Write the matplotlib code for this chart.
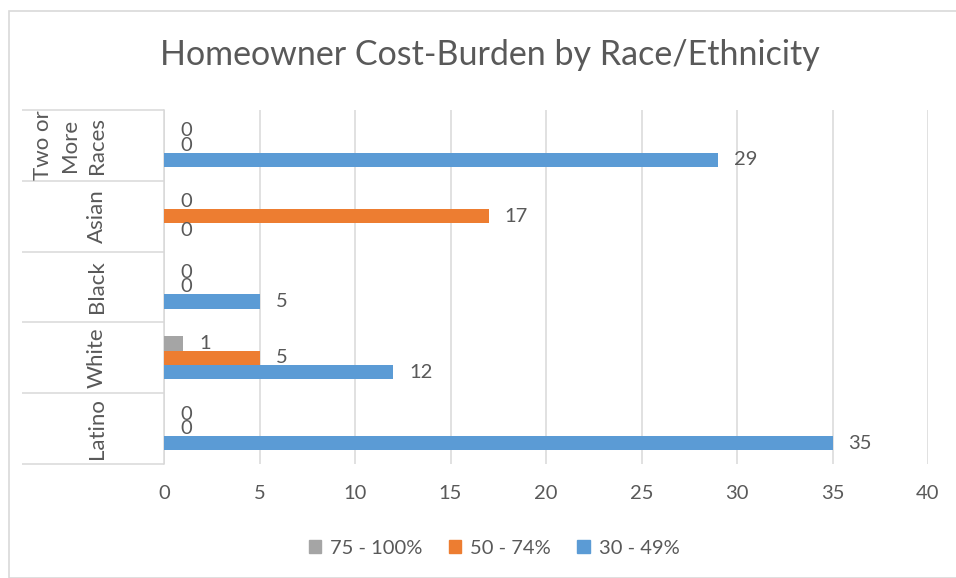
import matplotlib.pyplot as plt
from matplotlib.patches import Rectangle, Patch

plt.rcParams['font.family'] = ['Lato', 'DejaVu Sans']

# datos del grafico (de abajo hacia arriba)
categorias = ['Latino', 'White', 'Black', 'Asian', 'Two or\nMore\nRaces']
serie_30_49 = [35, 12, 5, 0, 29]
serie_50_74 = [0, 5, 0, 17, 0]
serie_75_100 = [0, 1, 0, 0, 0]
nombres = ['30 - 49%', '50 - 74%', '75 - 100%']
colores = ['#5B9BD5', '#ED7D31', '#A5A5A5']
ticks_x = [0, 5, 10, 15, 20, 25, 30, 35, 40]

gris_texto = '#595959'
gris_linea = '#D9D9D9'

fig = plt.figure(figsize=(9.56, 5.78), dpi=100)
ax = fig.add_axes([164 / 956, 1 - 464 / 578, 764 / 956, 354 / 578])

# borde del grafico
fig.patches.append(Rectangle((9 / 956, 0), 1.2, 1 - 11 / 578, transform=fig.transFigure,
                             fill=False, edgecolor=gris_linea, linewidth=1.2))

h = 0.204
pos = list(range(len(categorias)))
series = [serie_30_49, serie_50_74, serie_75_100]
for i, valores in enumerate(series):
    y = [p + (i - 1) * h for p in pos]
    ax.barh(y, valores, height=h, color=colores[i], zorder=3)
    for yy, v in zip(y, valores):
        ax.annotate(str(v), (v, yy), xytext=(16, 0), textcoords='offset pixels',
                    ha='left', va='center', fontsize=14.5, color=gris_texto, zorder=4)

ax.set_xlim(0, 40)
ax.set_ylim(-0.5, len(categorias) - 0.5)
ax.set_xticks(ticks_x)
ax.tick_params(axis='x', length=0, pad=15, labelsize=14.5, labelcolor=gris_texto)
ax.set_yticks([])
ax.grid(axis='x', color=gris_linea, linewidth=1.1, zorder=0)
for lado in ['top', 'right', 'bottom']:
    ax.spines[lado].set_visible(False)
ax.spines['left'].set_color(gris_linea)
ax.spines['left'].set_linewidth(1.1)

# etiquetas de categoria con sus cajas
trans = ax.get_yaxis_transform()
x_izq = (22 - 164) / 764
ax.hlines([p - 0.5 for p in range(len(categorias) + 1)], x_izq, 0, transform=trans,
          colors=gris_linea, linewidth=1.1, clip_on=False)
for p, c in zip(pos, categorias):
    ax.text(-57 / 764, p, c, transform=trans, rotation=90, ha='right', va='center',
            multialignment='center', fontsize=16, color=gris_texto, linespacing=1.45)

fig.text(0.512, 1 - 55 / 578, 'Homeowner Cost-Burden by Race/Ethnicity',
         ha='center', va='center', fontsize=24.5, color=gris_texto)

handles = [Patch(color=colores[i], label=nombres[i]) for i in [2, 1, 0]]
fig.legend(handles=handles, loc='center', bbox_to_anchor=(0.517, 1 - 548 / 578), ncol=3,
           frameon=False, fontsize=14.5, labelcolor=gris_texto, handlelength=0.62,
           handleheight=0.62, handletextpad=0.45, columnspacing=1.3)

fig.savefig('out.png', dpi=100)
